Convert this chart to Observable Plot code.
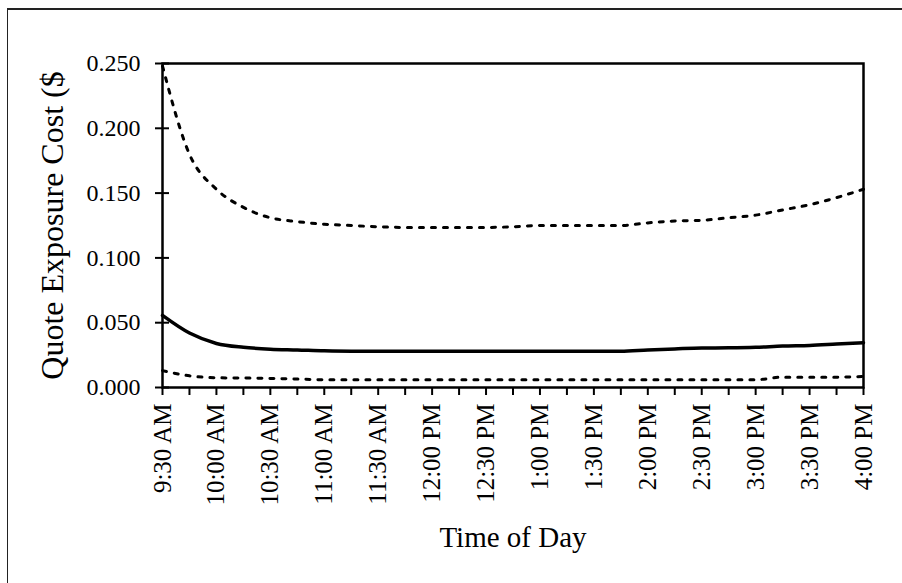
<!DOCTYPE html>
<html>
<head>
<meta charset="utf-8">
<script src="https://cdn.jsdelivr.net/npm/d3@7"></script>
<script src="https://cdn.jsdelivr.net/npm/@observablehq/plot@0.6"></script>
<style>
  html, body { margin: 0; padding: 0; background: #fff; }
  #wrap { position: relative; width: 902px; height: 583px; overflow: hidden; }
  #border { position: absolute; left: 7px; top: 8px; width: 1000px; height: 700px;
            border-left: 1.5px solid #222; border-top: 2px solid #222; }
  #chart { position: absolute; left: 0; top: 0; }
</style>
</head>
<body>
<div id="wrap"><div id="border"></div><div id="chart"></div></div>
<script>
// Time of day, every 15 minutes
const times = ["9:30 AM","9:45 AM","10:00 AM","10:15 AM","10:30 AM","10:45 AM","11:00 AM","11:15 AM","11:30 AM","11:45 AM",
  "12:00 PM","12:15 PM","12:30 PM","12:45 PM","1:00 PM","1:15 PM","1:30 PM","1:45 PM","2:00 PM","2:15 PM","2:30 PM",
  "2:45 PM","3:00 PM","3:15 PM","3:30 PM","3:45 PM","4:00 PM"];
// Labelled ticks (every 30 minutes)
const tickLabels = ["9:30 AM","10:00 AM","10:30 AM","11:00 AM","11:30 AM","12:00 PM","12:30 PM","1:00 PM","1:30 PM",
  "2:00 PM","2:30 PM","3:00 PM","3:30 PM","4:00 PM"];
const yTicks = [0, 0.05, 0.10, 0.15, 0.20, 0.25];

// Series values ($)
const upper = [0.248,0.180,0.153,0.139,0.131,0.128,0.126,0.125,0.124,0.1235,0.1235,0.1235,0.1235,0.124,0.125,
  0.125,0.125,0.125,0.127,0.1285,0.129,0.131,0.133,0.137,0.141,0.1465,0.153];
const middle = [0.0556,0.042,0.034,0.031,0.0296,0.029,0.0283,0.028,0.028,0.028,0.028,0.028,0.028,0.028,0.028,
  0.028,0.028,0.028,0.029,0.0298,0.0305,0.0306,0.031,0.032,0.0325,0.0335,0.0345];
const lower = [0.013,0.009,0.0075,0.0073,0.007,0.0065,0.006,0.006,0.006,0.006,0.006,0.006,0.006,0.006,0.006,
  0.006,0.006,0.006,0.006,0.006,0.006,0.006,0.006,0.008,0.008,0.008,0.0085];

function toMin(s) {
  const [hm, ap] = s.split(" ");
  let [h, m] = hm.split(":").map(Number);
  if (ap === "PM" && h !== 12) h += 12;
  return h * 60 + m;
}
const build = arr => arr.map((v, i) => ({t: toMin(times[i]), v}));
const dUpper = build(upper), dMiddle = build(middle), dLower = build(lower);
const allTicks = times.map(toMin);
const labelMap = new Map(tickLabels.map(s => [toMin(s), s]));

const font = "'Liberation Serif', 'Times New Roman', serif";

const chart = Plot.plot({
  width: 902,
  height: 583,
  marginLeft: 162,
  marginRight: 39,
  marginTop: 63,
  marginBottom: 196,
  style: {fontFamily: font, color: "#000", background: "transparent", overflow: "visible"},
  x: {domain: [toMin(times[0]), toMin(times[times.length - 1])]},
  y: {domain: [0, 0.25]},
  marks: [
    Plot.axisY({ticks: yTicks, tickSize: 14, dx: 7, tickPadding: 15, tickFormat: d3.format(".3f"),
      fontSize: 24, strokeWidth: 2, label: null}),
    Plot.axisX({ticks: allTicks, tickSize: 8, tickPadding: 8, tickRotate: -90,
      tickFormat: d => labelMap.get(d) || "", fontSize: 25, strokeWidth: 2, label: null}),
    Plot.line(dUpper, {x: "t", y: "v", stroke: "#000", strokeWidth: 3, strokeDasharray: "4,8", curve: "monotone-x"}),
    Plot.line(dLower, {x: "t", y: "v", stroke: "#000", strokeWidth: 3, strokeDasharray: "4,8", curve: "monotone-x"}),
    Plot.line(dMiddle, {x: "t", y: "v", stroke: "#000", strokeWidth: 3.5, curve: "monotone-x"}),
    Plot.frame({stroke: "#000", strokeWidth: 2.5}),
    Plot.text(["Quote Exposure Cost ($"], {frameAnchor: "left", textAnchor: "middle", rotate: -90, dx: -110,
      fontSize: 32, fill: "#000"}),
    Plot.text(["Time of Day"], {frameAnchor: "bottom", dy: 159, fontSize: 29, fill: "#000"})
  ]
});
document.getElementById("chart").appendChild(chart);
</script>
</body>
</html>
